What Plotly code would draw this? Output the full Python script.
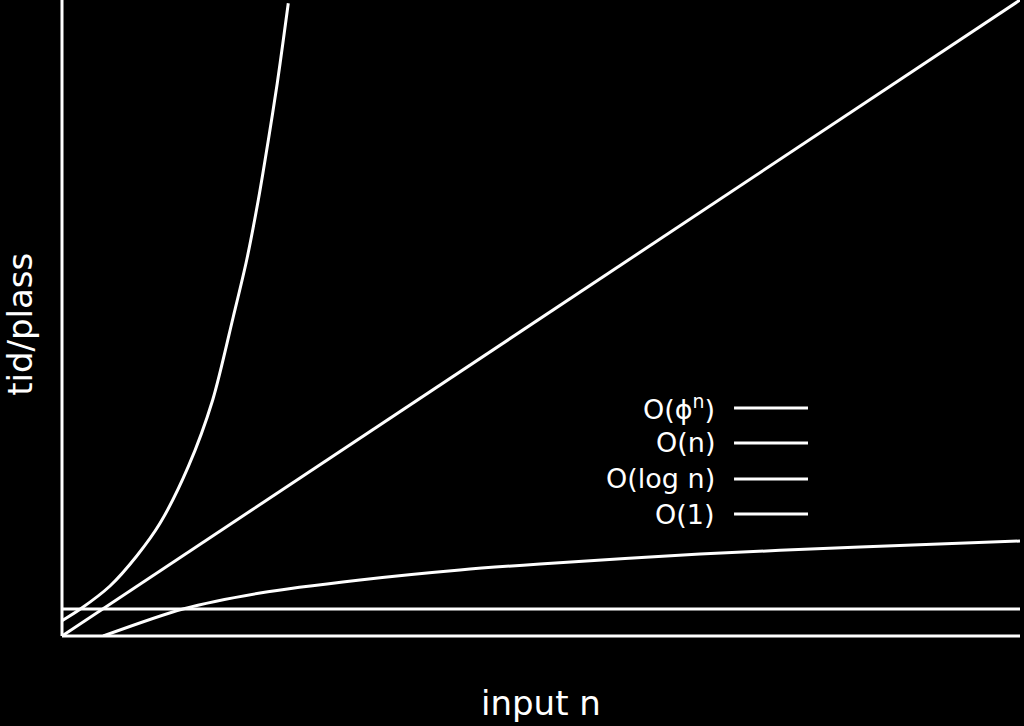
import plotly.graph_objects as go

# Values (abstract units: x 0..100, y 0..100)
exp_x = [0, 1.88, 5.01, 7.80, 10.23, 13.18, 15.73, 17.88, 19.28, 20.49, 21.54, 22.47, 23.10, 23.62]
exp_y = [2.4, 4.20, 7.86, 12.58, 17.72, 26.62, 37.11, 50.20, 59.12, 68.55, 77.99, 86.90, 93.71, 99.48]

lin_x = [0, 100]
lin_y = [0, 100]

log_x = [4.3, 12.63, 20.67, 31.11, 41.54, 49.9, 66.6, 83.3, 100]
log_y = [0, 4.25, 6.76, 8.81, 10.38, 11.32, 12.89, 13.99, 14.94]

const_x = [0, 100]
const_y = [4.25, 4.25]

legend_labels = ["O(\u03d5<sup>n</sup>)", "O(n)", "O(log n)", "O(1)"]
x_title = "input n"
y_title = "tid/plass"

FONT = "DejaVu Sans"
line_style = dict(color="white", width=3)

fig = go.Figure()
for xs, ys in [(exp_x, exp_y), (lin_x, lin_y), (log_x, log_y), (const_x, const_y)]:
    fig.add_trace(go.Scatter(x=xs, y=ys, mode="lines",
                             line=dict(shape="spline", smoothing=0.8, **line_style),
                             showlegend=False, hoverinfo="skip"))

# custom legend: text right-aligned, line sample to the right
legend_rows_y = [0.3585, 0.3035, 0.2469, 0.1918]
annotations = []
shapes = []
for label, yy in zip(legend_labels, legend_rows_y):
    annotations.append(dict(text=label, xref="paper", yref="paper", x=0.6837, y=yy,
                            xanchor="right", yanchor="middle", showarrow=False,
                            font=dict(family=FONT, size=27, color="white")))
    shapes.append(dict(type="line", xref="paper", yref="paper", x0=0.7015, x1=0.7787,
                       y0=yy, y1=yy, line=dict(color="white", width=3)))

annotations.append(dict(text=x_title, xref="paper", yref="paper", x=0.5, y=-0.1053,
                        xanchor="center", yanchor="middle", showarrow=False,
                        font=dict(family=FONT, size=34, color="white")))
annotations.append(dict(text=y_title, xref="paper", yref="paper", x=-0.044, y=0.4906,
                        xanchor="center", yanchor="middle", showarrow=False, textangle=-90,
                        font=dict(family=FONT, size=34, color="white")))

# axis lines
shapes.append(dict(type="line", xref="paper", yref="paper", x0=0, x1=0, y0=0, y1=1,
                   line=dict(color="white", width=3)))
shapes.append(dict(type="line", xref="paper", yref="paper", x0=0, x1=1, y0=0, y1=0,
                   line=dict(color="white", width=3)))

fig.update_layout(
    width=1024, height=726,
    margin=dict(l=62, r=4, t=0, b=90),
    paper_bgcolor="black", plot_bgcolor="black",
    xaxis=dict(range=[0, 100], visible=False, fixedrange=True),
    yaxis=dict(range=[0, 100], visible=False, fixedrange=True),
    annotations=annotations, shapes=shapes,
    showlegend=False,
)

fig.write_html("out.html", config={"displayModeBar": False})
